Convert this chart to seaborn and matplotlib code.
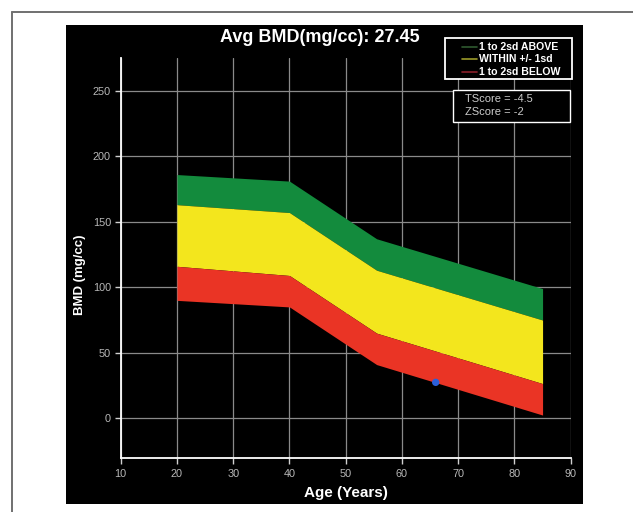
import matplotlib
matplotlib.use("Agg")
import matplotlib.pyplot as plt
import seaborn as sns
import pandas as pd
from matplotlib.patches import Rectangle
from matplotlib.lines import Line2D

# ===============================
# Data
# ===============================
ages = [20, 40, 55.5, 85]
sd2_above = [186, 181, 137, 99]
sd1_above = [163, 157, 113, 75]
sd1_below = [116, 109, 65, 26.5]
sd2_below = [90, 85, 41, 2.5]

patient_age = [66]
patient_bmd = [27.45]
avg_bmd = 27.45
tscore = -4.5
zscore = -2

band_labels = ['1 to 2sd ABOVE', 'WITHIN +/- 1sd', '1 to 2sd BELOW']
band_colors = ['#138b3d', '#f3e61d', '#ea3425']
legend_line_colors = ['#2f5a2f', '#9c9a2a', '#8a1f2a']

df = pd.DataFrame({'Age': ages, 'top': sd2_above, 'hi': sd1_above,
                   'lo': sd1_below, 'bottom': sd2_below})

W, H = 633, 512


def fx(px):
    return px / W


def fy(py):
    return 1 - py / H


# ===============================
# Figure setup
# ===============================
sns.set_style("dark", {"axes.facecolor": "black", "figure.facecolor": "white"})
plt.rcParams['font.family'] = ['Liberation Sans', 'DejaVu Sans']

fig = plt.figure(figsize=(W / 100, H / 100), dpi=100)
fig.patch.set_facecolor('white')

# thin gray border (top and left only, the rest is cropped off)
fig.add_artist(Line2D([fx(12), fx(12)], [fy(12), 0], transform=fig.transFigure,
                      color='#707070', linewidth=1.4))
fig.add_artist(Line2D([fx(12), 1], [fy(12), fy(12)], transform=fig.transFigure,
                      color='#707070', linewidth=1.4))
# black panel
fig.add_artist(Rectangle((fx(66), fy(504)), (583 - 66) / W, (504 - 25) / H,
                         transform=fig.transFigure, facecolor='black',
                         edgecolor='none', zorder=0))

ax = fig.add_axes([fx(120.7), fy(458.3), 450 / W, 400 / H])
ax.set_facecolor('black')

# bands
ax.fill_between(df['Age'], df['hi'], df['top'], color=band_colors[0], linewidth=0, zorder=2)
ax.fill_between(df['Age'], df['lo'], df['hi'], color=band_colors[1], linewidth=0, zorder=2)
ax.fill_between(df['Age'], df['bottom'], df['lo'], color=band_colors[2], linewidth=0, zorder=2)

# patient point
sns.scatterplot(x=patient_age, y=patient_bmd, ax=ax, color='#2b5fd9', s=28,
                edgecolor='none', zorder=4)

# axes
ax.set_xlim(10, 90)
ax.set_ylim(-30.5, 274.7)
ax.set_xticks(range(10, 91, 10))
ax.set_yticks(range(0, 251, 50))
ax.grid(True, color='#8a8a8a', linewidth=0.9, zorder=1)
ax.set_axisbelow(True)
for side in ['top', 'right']:
    ax.spines[side].set_visible(False)
for side in ['left', 'bottom']:
    ax.spines[side].set_visible(True)
    ax.spines[side].set_color('white')
    ax.spines[side].set_linewidth(1.3)
ax.tick_params(labelcolor='#b8b8b8', labelsize=7.8, length=4, width=1,
               color='#d0d0d0', direction='out', left=True, bottom=True)
ax.tick_params(axis='x', pad=4)
ax.tick_params(axis='y', pad=3)

ax.set_xlabel('Age (Years)', color='white', fontsize=11, fontweight='bold')
ax.xaxis.set_label_coords(0.5, -(486 - 458.3) / 400)
ax.set_ylabel('BMD (mg/cc)', color='white', fontsize=9.5, fontweight='bold')
ax.yaxis.set_label_coords(-(120.7 - 86) / 450, (458.3 - 275) / 400)

fig.text(fx(320), fy(37), f'Avg BMD(mg/cc): {avg_bmd:.2f}', color='white',
         fontsize=13, fontweight='bold', ha='center', va='center')

# legend box
fig.add_artist(Rectangle((fx(445), fy(79)), 127 / W, 41 / H, transform=fig.transFigure,
                         facecolor='black', edgecolor='white', linewidth=1.3, zorder=3))
for i, (lab, col) in enumerate(zip(band_labels, legend_line_colors)):
    yy = fy(46.7 + 12.5 * i)
    fig.add_artist(Line2D([fx(462), fx(477)], [yy, yy], transform=fig.transFigure,
                          color=col, linewidth=1.2, zorder=4))
    fig.text(fx(479), yy, lab, color='white', fontsize=7.6, fontweight='bold',
             ha='left', va='center', zorder=4)

# score box
fig.add_artist(Rectangle((fx(453), fy(122)), 117 / W, 32 / H, transform=fig.transFigure,
                         facecolor='black', edgecolor='white', linewidth=1.0, zorder=3))
fig.text(fx(465), fy(99), f'TScore = {tscore}', color='#cccccc', fontsize=8,
         ha='left', va='center', zorder=4)
fig.text(fx(465), fy(112), f'ZScore = {zscore}', color='#cccccc', fontsize=8,
         ha='left', va='center', zorder=4)

fig.savefig('out.png', dpi=100, facecolor='white')
